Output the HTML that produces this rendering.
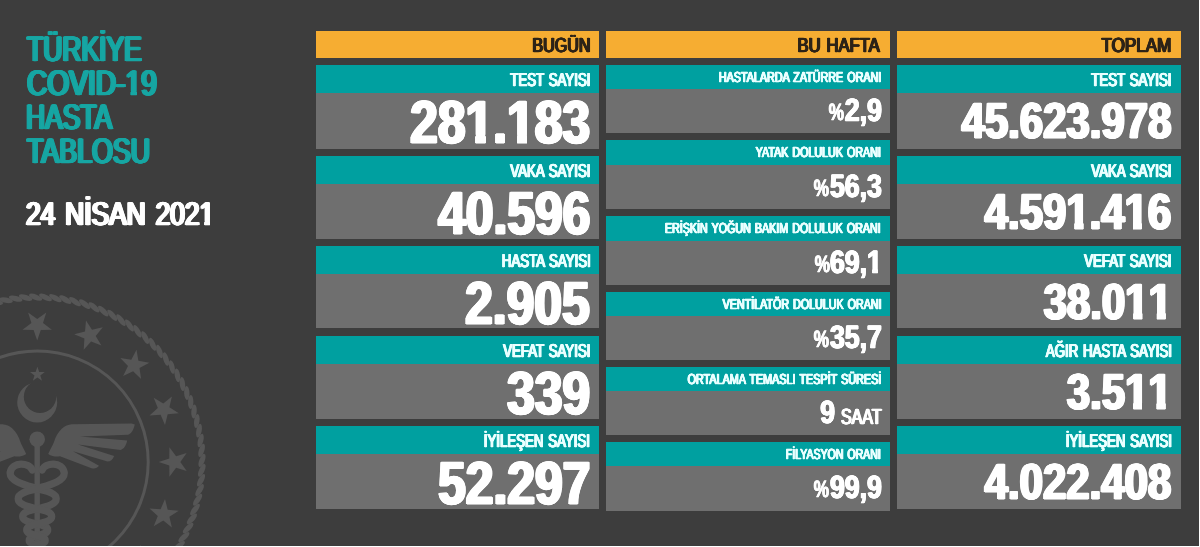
<!DOCTYPE html>
<html lang="tr"><head><meta charset="utf-8"><title>Türkiye COVID-19 Hasta Tablosu</title>
<style>
html,body{margin:0;padding:0;}
html{background:#3d3d3d;}
#stage{position:absolute;left:0;top:0;width:1200px;height:547px;filter:blur(0.4px);}
body{width:1200px;height:547px;overflow:hidden;background:#3d3d3d;position:relative;font-family:"Liberation Sans", sans-serif;font-weight:bold;}
.r{position:absolute;}
.t{position:absolute;white-space:nowrap;line-height:1;text-rendering:geometricPrecision;}
.tr{transform-origin:100% 0;}
.tl{transform-origin:0 0;}
.o{display:inline-block;}
.hdr{font-size:20.35px;font-weight:normal;word-spacing:0.08em;-webkit-text-stroke:0.60px currentColor;text-shadow:0.50px 0 0 currentColor,-0.50px 0 0 currentColor,1.00px 0 0 currentColor,-1.00px 0 0 currentColor;}
.lab{font-size:18.60px;font-weight:normal;word-spacing:0.08em;-webkit-text-stroke:0.50px currentColor;text-shadow:0.50px 0 0 currentColor,-0.50px 0 0 currentColor,1.00px 0 0 currentColor,-1.00px 0 0 currentColor;}
.n0{font-size:60.60px;-webkit-text-stroke:1.20px currentColor;text-shadow:0.44px 0 0 currentColor,-0.44px 0 0 currentColor,0.88px 0 0 currentColor,-0.88px 0 0 currentColor,1.31px 0 0 currentColor,-1.31px 0 0 currentColor,1.75px 0 0 currentColor,-1.75px 0 0 currentColor;}
.n0 .o{clip-path:polygon(-181.8px -181.8px,181.8px -181.8px,181.8px 42.82px,24.26px 42.82px,24.26px 181.8px,12.34px 181.8px,12.34px 42.82px,-181.8px 42.82px);}
.n2{font-size:50.64px;-webkit-text-stroke:1.00px currentColor;text-shadow:0.53px 0 0 currentColor,-0.53px 0 0 currentColor,1.07px 0 0 currentColor,-1.07px 0 0 currentColor,1.60px 0 0 currentColor,-1.60px 0 0 currentColor;}
.n2 .o{clip-path:polygon(-151.9px -151.9px,151.9px -151.9px,151.9px 35.93px,20.42px 35.93px,20.42px 151.9px,10.17px 151.9px,10.17px 35.93px,-151.9px 35.93px);}
.mlab{font-size:14.53px;font-weight:normal;word-spacing:0.10em;-webkit-text-stroke:0.40px currentColor;text-shadow:0.40px 0 0 currentColor,-0.40px 0 0 currentColor,0.80px 0 0 currentColor,-0.80px 0 0 currentColor;}
.mnum{font-size:32.29px;-webkit-text-stroke:0.60px currentColor;text-shadow:0.43px 0 0 currentColor,-0.43px 0 0 currentColor,0.87px 0 0 currentColor,-0.87px 0 0 currentColor;}
.mnum .o{clip-path:polygon(-96.9px -96.9px,96.9px -96.9px,96.9px 23.00px,12.89px 23.00px,12.89px 96.9px,6.62px 96.9px,6.62px 23.00px,-96.9px 23.00px);}
.mpct{font-size:23.61px;-webkit-text-stroke:0.40px currentColor;text-shadow:0.50px 0 0 currentColor,-0.50px 0 0 currentColor;}
.msaat{font-size:21.95px;font-weight:normal;-webkit-text-stroke:0.50px currentColor;text-shadow:0.53px 0 0 currentColor,-0.53px 0 0 currentColor,1.05px 0 0 currentColor,-1.05px 0 0 currentColor;}
.title{font-size:35.32px;font-weight:normal;-webkit-text-stroke:0.70px currentColor;text-shadow:0.50px 0 0 currentColor,-0.50px 0 0 currentColor,1.00px 0 0 currentColor,-1.00px 0 0 currentColor,1.50px 0 0 currentColor,-1.50px 0 0 currentColor,2.00px 0 0 currentColor,-2.00px 0 0 currentColor;}
.title .o{clip-path:polygon(-106.0px -106.0px,106.0px -106.0px,106.0px 25.61px,14.05px 25.61px,14.05px 106.0px,6.83px 106.0px,6.83px 25.61px,-106.0px 25.61px);}
.date{font-size:32.72px;font-weight:normal;word-spacing:0.10em;-webkit-text-stroke:0.70px currentColor;text-shadow:0.44px 0 0 currentColor,-0.44px 0 0 currentColor,0.88px 0 0 currentColor,-0.88px 0 0 currentColor,1.31px 0 0 currentColor,-1.31px 0 0 currentColor,1.75px 0 0 currentColor,-1.75px 0 0 currentColor;}
.date .o{clip-path:polygon(-98.2px -98.2px,98.2px -98.2px,98.2px 23.81px,12.92px 23.81px,12.92px 98.2px,6.43px 98.2px,6.43px 23.81px,-98.2px 23.81px);}
</style></head><body>
<div id="stage">
<svg width="320" height="547" viewBox="0 0 320 547" style="position:absolute;left:0;top:0" fill="#565656" stroke="none">
<defs><mask id="cm" maskUnits="userSpaceOnUse" x="0" y="370" width="80" height="60"><rect x="0" y="370" width="80" height="60" fill="#fff"/><circle cx="40.0" cy="396.8" r="16.2" fill="#000"/></mask></defs>
<g><ellipse cx="202.0" cy="460.4" rx="7.0" ry="2.7" transform="rotate(-68.6 202.0 460.4)"/><ellipse cx="201.6" cy="450.4" rx="7.0" ry="2.7" transform="rotate(-72.0 201.6 450.4)"/><ellipse cx="200.6" cy="440.5" rx="7.0" ry="2.7" transform="rotate(-75.5 200.6 440.5)"/><ellipse cx="199.0" cy="430.7" rx="7.0" ry="2.7" transform="rotate(-79.0 199.0 430.7)"/><ellipse cx="196.8" cy="421.0" rx="7.0" ry="2.7" transform="rotate(-82.4 196.8 421.0)"/><ellipse cx="194.0" cy="411.4" rx="7.0" ry="2.7" transform="rotate(-85.9 194.0 411.4)"/><ellipse cx="190.7" cy="402.0" rx="7.0" ry="2.7" transform="rotate(-89.3 190.7 402.0)"/><ellipse cx="186.8" cy="392.9" rx="7.0" ry="2.7" transform="rotate(-92.8 186.8 392.9)"/><ellipse cx="182.4" cy="384.0" rx="7.0" ry="2.7" transform="rotate(-96.3 182.4 384.0)"/><ellipse cx="177.4" cy="375.3" rx="7.0" ry="2.7" transform="rotate(-99.7 177.4 375.3)"/><ellipse cx="171.9" cy="367.0" rx="7.0" ry="2.7" transform="rotate(-103.2 171.9 367.0)"/><ellipse cx="165.9" cy="359.1" rx="7.0" ry="2.7" transform="rotate(-106.6 165.9 359.1)"/><ellipse cx="159.5" cy="351.5" rx="7.0" ry="2.7" transform="rotate(-110.1 159.5 351.5)"/><ellipse cx="152.6" cy="344.3" rx="7.0" ry="2.7" transform="rotate(-113.6 152.6 344.3)"/><ellipse cx="145.2" cy="337.6" rx="7.0" ry="2.7" transform="rotate(-117.0 145.2 337.6)"/><ellipse cx="137.5" cy="331.3" rx="7.0" ry="2.7" transform="rotate(-120.5 137.5 331.3)"/><ellipse cx="129.5" cy="325.4" rx="7.0" ry="2.7" transform="rotate(-124.0 129.5 325.4)"/><ellipse cx="121.0" cy="320.1" rx="7.0" ry="2.7" transform="rotate(-127.4 121.0 320.1)"/><ellipse cx="112.3" cy="315.3" rx="7.0" ry="2.7" transform="rotate(-130.9 112.3 315.3)"/><ellipse cx="103.3" cy="311.1" rx="7.0" ry="2.7" transform="rotate(-134.3 103.3 311.1)"/><ellipse cx="94.1" cy="307.3" rx="7.0" ry="2.7" transform="rotate(-137.8 94.1 307.3)"/><ellipse cx="84.7" cy="304.2" rx="7.0" ry="2.7" transform="rotate(-141.3 84.7 304.2)"/><ellipse cx="75.0" cy="301.6" rx="7.0" ry="2.7" transform="rotate(-144.7 75.0 301.6)"/><ellipse cx="65.3" cy="299.6" rx="7.0" ry="2.7" transform="rotate(-148.2 65.3 299.6)"/><ellipse cx="55.4" cy="298.2" rx="7.0" ry="2.7" transform="rotate(-151.6 55.4 298.2)"/><ellipse cx="45.5" cy="297.4" rx="7.0" ry="2.7" transform="rotate(-155.1 45.5 297.4)"/><ellipse cx="35.6" cy="297.2" rx="7.0" ry="2.7" transform="rotate(201.4 35.6 297.2)"/><ellipse cx="25.6" cy="297.6" rx="7.0" ry="2.7" transform="rotate(198.0 25.6 297.6)"/><ellipse cx="15.7" cy="298.6" rx="7.0" ry="2.7" transform="rotate(194.5 15.7 298.6)"/><ellipse cx="5.9" cy="300.2" rx="7.0" ry="2.7" transform="rotate(191.0 5.9 300.2)"/><ellipse cx="-3.8" cy="302.4" rx="7.0" ry="2.7" transform="rotate(187.6 -3.8 302.4)"/><ellipse cx="173.8" cy="554.3" rx="7.0" ry="2.7" transform="rotate(-34.0 173.8 554.3)"/><ellipse cx="179.1" cy="545.8" rx="7.0" ry="2.7" transform="rotate(-37.4 179.1 545.8)"/><ellipse cx="183.9" cy="537.1" rx="7.0" ry="2.7" transform="rotate(-40.9 183.9 537.1)"/><ellipse cx="188.1" cy="528.1" rx="7.0" ry="2.7" transform="rotate(-44.3 188.1 528.1)"/><ellipse cx="191.9" cy="518.9" rx="7.0" ry="2.7" transform="rotate(-47.8 191.9 518.9)"/><ellipse cx="195.0" cy="509.5" rx="7.0" ry="2.7" transform="rotate(-51.3 195.0 509.5)"/><ellipse cx="197.6" cy="499.8" rx="7.0" ry="2.7" transform="rotate(-54.7 197.6 499.8)"/><ellipse cx="199.6" cy="490.1" rx="7.0" ry="2.7" transform="rotate(-58.2 199.6 490.1)"/><ellipse cx="201.0" cy="480.2" rx="7.0" ry="2.7" transform="rotate(-61.6 201.0 480.2)"/><ellipse cx="201.8" cy="470.3" rx="7.0" ry="2.7" transform="rotate(-65.1 201.8 470.3)"/></g>
<circle cx="37.2" cy="462.0" r="111" fill="none" stroke="#565656" stroke-width="3"/>
<g><polygon points="-9.3,349.7 -10.0,338.6 0.2,334.2 -10.6,331.5 -11.6,320.4 -17.6,329.8 -28.4,327.3 -21.3,335.9 -27.0,345.5 -16.7,341.4"/><polygon points="37.2,340.5 40.8,329.9 51.9,329.8 43.0,323.1 46.3,312.5 37.2,318.9 28.1,312.5 31.4,323.1 22.5,329.8 33.6,329.9"/><polygon points="83.7,349.7 91.1,341.4 101.4,345.5 95.7,335.9 102.8,327.3 92.0,329.8 86.0,320.4 85.0,331.5 74.2,334.2 84.4,338.6"/><polygon points="123.1,376.1 133.1,371.2 141.1,378.9 139.5,367.9 149.4,362.7 138.4,360.8 136.5,349.8 131.3,359.7 120.3,358.1 128.0,366.1"/><polygon points="149.5,415.5 160.6,414.8 165.0,425.0 167.7,414.2 178.8,413.2 169.4,407.2 171.9,396.4 163.3,403.5 153.7,397.8 157.8,408.1"/><polygon points="158.7,462.0 169.3,465.6 169.4,476.7 176.1,467.8 186.7,471.1 180.3,462.0 186.7,452.9 176.1,456.2 169.4,447.3 169.3,458.4"/><polygon points="149.5,508.5 157.8,515.9 153.7,526.2 163.3,520.5 171.9,527.6 169.4,516.8 178.8,510.8 167.7,509.8 165.0,499.0 160.6,509.2"/><polygon points="123.1,547.9 128.0,557.9 120.3,565.9 131.3,564.3 136.5,574.2 138.4,563.2 149.4,561.3 139.5,556.1 141.1,545.1 133.1,552.8"/><polygon points="37.4,366.7 35.6,372.0 30.0,372.1 34.5,375.5 32.8,380.8 37.4,377.6 42.0,380.8 40.3,375.5 44.8,372.1 39.2,372.0"/></g>
<path fill-rule="evenodd" d="M17.2 402.4a20.0 20.0 0 1 0 40.0 0a20.0 20.0 0 1 0 -40.0 0z" mask="url(#cm)"/>
<circle cx="37.2" cy="439.3" r="7.8"/>
<rect x="34.5" y="444" width="5.4" height="110"/>
<path d="M48.2 453.9 C50.5 449 52.5 445.5 54 442 C55.5 437 58 432 62 428.5 C65 426 68 424.6 72 424.3 L131.6 423.6 L134.8 424.4 C133.5 430 131.5 433.5 128 434.8 L80 436.6  L127.2 440.6 C126 446 124 449 120.5 450 L78 444.6  L114.2 456.0 C112.6 460 110.5 461.6 107.5 461.6 L73 451.3  L99.0 465.8 C97 468.4 94.5 469 91.5 468.2 L60 456.2 C56 457 52 456.2 48.2 453.9 Z"/>
<path d="M48.2 453.9 C50.5 449 52.5 445.5 54 442 C55.5 437 58 432 62 428.5 C65 426 68 424.6 72 424.3 L131.6 423.6 L134.8 424.4 C133.5 430 131.5 433.5 128 434.8 L80 436.6  L127.2 440.6 C126 446 124 449 120.5 450 L78 444.6  L114.2 456.0 C112.6 460 110.5 461.6 107.5 461.6 L73 451.3  L99.0 465.8 C97 468.4 94.5 469 91.5 468.2 L60 456.2 C56 457 52 456.2 48.2 453.9 Z" transform="translate(74.4 0) scale(-1 1)"/>
<path d="M32.2 470.0 C29.2 462.5 12.2 461.0 10.2 472.5 C9.2 482.0 29.2 486.0 37.2 488.6 C48.6 491.1 56.2 493.7 56.2 498.7 C56.2 503.8 48.6 506.3 37.2 508.8 C28.5 510.7 22.7 512.6 22.7 516.4 C22.7 520.2 28.5 522.1 37.2 524.0 C43.5 525.5 47.7 526.9 47.7 529.9 C47.7 532.8 43.5 534.2 37.2 535.7 C32.4 536.9 29.2 538.0 29.2 540.4 C29.2 542.7 32.4 543.8 37.2 545.0 C40.8 546.0 43.2 547.0 43.2 549.0 C43.2 551.0 40.8 552.0 37.2 553.0" fill="none" stroke="#565656" stroke-width="7.3" stroke-linecap="round"/>
<path d="M42.2 470.0 C45.2 462.5 62.2 461.0 64.2 472.5 C65.2 482.0 45.2 486.0 37.2 488.6 C25.8 491.1 18.2 493.7 18.2 498.7 C18.2 503.8 25.8 506.3 37.2 508.8 C45.9 510.7 51.7 512.6 51.7 516.4 C51.7 520.2 45.9 522.1 37.2 524.0 C30.9 525.5 26.7 526.9 26.7 529.9 C26.7 532.8 30.9 534.2 37.2 535.7 C42.0 536.9 45.2 538.0 45.2 540.4 C45.2 542.7 42.0 543.8 37.2 545.0 C33.6 546.0 31.2 547.0 31.2 549.0 C31.2 551.0 33.6 552.0 37.2 553.0" fill="none" stroke="#565656" stroke-width="7.3" stroke-linecap="round"/>
</svg>
<div class="r" style="left:315.60px;top:31.10px;width:283.40px;height:26.60px;background:#f6ad32"></div>
<div class="r" style="left:606.20px;top:31.10px;width:283.90px;height:26.60px;background:#f6ad32"></div>
<div class="r" style="left:896.85px;top:31.10px;width:283.75px;height:26.60px;background:#f6ad32"></div>
<div class="r" style="left:315.60px;top:64.60px;width:283.40px;height:28.60px;background:#00a0a0"></div>
<div class="r" style="left:315.60px;top:93.20px;width:283.40px;height:55.40px;background:#6f6f6f"></div>
<div class="r" style="left:315.60px;top:155.50px;width:283.40px;height:28.60px;background:#00a0a0"></div>
<div class="r" style="left:315.60px;top:184.10px;width:283.40px;height:54.70px;background:#6f6f6f"></div>
<div class="r" style="left:315.60px;top:245.50px;width:283.40px;height:28.60px;background:#00a0a0"></div>
<div class="r" style="left:315.60px;top:274.10px;width:283.40px;height:54.40px;background:#6f6f6f"></div>
<div class="r" style="left:315.60px;top:335.50px;width:283.40px;height:28.60px;background:#00a0a0"></div>
<div class="r" style="left:315.60px;top:364.10px;width:283.40px;height:54.70px;background:#6f6f6f"></div>
<div class="r" style="left:315.60px;top:425.70px;width:283.40px;height:28.60px;background:#00a0a0"></div>
<div class="r" style="left:315.60px;top:454.30px;width:283.40px;height:55.00px;background:#6f6f6f"></div>
<div class="r" style="left:896.85px;top:64.60px;width:283.75px;height:28.60px;background:#00a0a0"></div>
<div class="r" style="left:896.85px;top:93.20px;width:283.75px;height:55.40px;background:#6f6f6f"></div>
<div class="r" style="left:896.85px;top:155.50px;width:283.75px;height:28.60px;background:#00a0a0"></div>
<div class="r" style="left:896.85px;top:184.10px;width:283.75px;height:54.70px;background:#6f6f6f"></div>
<div class="r" style="left:896.85px;top:245.50px;width:283.75px;height:28.60px;background:#00a0a0"></div>
<div class="r" style="left:896.85px;top:274.10px;width:283.75px;height:54.40px;background:#6f6f6f"></div>
<div class="r" style="left:896.85px;top:335.50px;width:283.75px;height:28.60px;background:#00a0a0"></div>
<div class="r" style="left:896.85px;top:364.10px;width:283.75px;height:54.70px;background:#6f6f6f"></div>
<div class="r" style="left:896.85px;top:425.70px;width:283.75px;height:28.60px;background:#00a0a0"></div>
<div class="r" style="left:896.85px;top:454.30px;width:283.75px;height:55.00px;background:#6f6f6f"></div>
<div class="r" style="left:606.20px;top:64.60px;width:283.90px;height:24.80px;background:#00a0a0"></div>
<div class="r" style="left:606.20px;top:89.40px;width:283.90px;height:43.65px;background:#6f6f6f"></div>
<div class="r" style="left:606.20px;top:140.00px;width:283.90px;height:24.80px;background:#00a0a0"></div>
<div class="r" style="left:606.20px;top:164.80px;width:283.90px;height:44.40px;background:#6f6f6f"></div>
<div class="r" style="left:606.20px;top:216.10px;width:283.90px;height:24.80px;background:#00a0a0"></div>
<div class="r" style="left:606.20px;top:240.90px;width:283.90px;height:44.00px;background:#6f6f6f"></div>
<div class="r" style="left:606.20px;top:291.60px;width:283.90px;height:24.80px;background:#00a0a0"></div>
<div class="r" style="left:606.20px;top:316.40px;width:283.90px;height:43.40px;background:#6f6f6f"></div>
<div class="r" style="left:606.20px;top:366.50px;width:283.90px;height:24.80px;background:#00a0a0"></div>
<div class="r" style="left:606.20px;top:391.30px;width:283.90px;height:43.45px;background:#6f6f6f"></div>
<div class="r" style="left:606.20px;top:441.50px;width:283.90px;height:24.80px;background:#00a0a0"></div>
<div class="r" style="left:606.20px;top:466.30px;width:283.90px;height:44.70px;background:#6f6f6f"></div>
<div class="t tl title" style="left:26.90px;top:32px;color:#17a6a3;transform:scaleX(0.7500)">TÜRKİYE</div>
<div class="t tl title" style="left:26.76px;top:66px;color:#17a6a3;transform:scaleX(0.7965)">COVID-<span class="o">1</span>9</div>
<div class="t tl title" style="left:26.43px;top:100px;color:#17a6a3;transform:scaleX(0.7477)">HASTA</div>
<div class="t tl title" style="left:26.92px;top:134px;color:#17a6a3;transform:scaleX(0.7587)">TABLOSU</div>
<div class="t tl date" style="left:25.98px;top:198px;color:#fff;transform:scaleX(0.8043)">24 NİSAN 202<span class="o">1</span></div>
<div class="t tr hdr" style="right:609.68px;top:36px;color:#2e2418;transform:scaleX(0.7906)">BUGÜN</div>
<div class="t tr hdr" style="right:320.08px;top:36px;color:#2e2418;transform:scaleX(0.8164)">BU HAFTA</div>
<div class="t tr hdr" style="right:28.24px;top:36px;color:#2e2418;transform:scaleX(0.8376)">TOPLAM</div>
<div class="t tr lab" style="right:609.69px;top:71px;color:#eaffff;transform:scaleX(0.7126)">TEST SAYISI</div>
<div class="t tr n0" style="right:609.84px;top:92px;color:#fff;transform:scaleX(0.8213)">28<span class="o">1</span>.<span class="o">1</span>83</div>
<div class="t tr lab" style="right:609.69px;top:162px;color:#eaffff;transform:scaleX(0.7126)">VAKA SAYISI</div>
<div class="t tr n0" style="right:609.84px;top:183px;color:#fff;transform:scaleX(0.8213)">40.596</div>
<div class="t tr lab" style="right:609.69px;top:252px;color:#eaffff;transform:scaleX(0.7126)">HASTA SAYISI</div>
<div class="t tr n0" style="right:610.25px;top:273px;color:#fff;transform:scaleX(0.8213)">2.905</div>
<div class="t tr lab" style="right:609.69px;top:342px;color:#eaffff;transform:scaleX(0.7126)">VEFAT SAYISI</div>
<div class="t tr n0" style="right:609.79px;top:363px;color:#fff;transform:scaleX(0.8213)">339</div>
<div class="t tr lab" style="right:609.69px;top:432px;color:#eaffff;transform:scaleX(0.7126)">İYİLEŞEN SAYISI</div>
<div class="t tr n0" style="right:609.45px;top:453px;color:#fff;transform:scaleX(0.8213)">52.297</div>
<div class="t tr lab" style="right:28.29px;top:71px;color:#eaffff;transform:scaleX(0.7126)">TEST SAYISI</div>
<div class="t tr n2" style="right:28.83px;top:96px;color:#fff;transform:scaleX(0.8283)">45.623.978</div>
<div class="t tr lab" style="right:28.29px;top:162px;color:#eaffff;transform:scaleX(0.7126)">VAKA SAYISI</div>
<div class="t tr n2" style="right:28.61px;top:187px;color:#fff;transform:scaleX(0.8283)">4.59<span class="o">1</span>.4<span class="o">1</span>6</div>
<div class="t tr lab" style="right:28.29px;top:252px;color:#eaffff;transform:scaleX(0.7126)">VEFAT SAYISI</div>
<div class="t tr n2" style="right:28.10px;top:277px;color:#fff;transform:scaleX(0.8283)">38.0<span class="o">1</span><span class="o">1</span></div>
<div class="t tr lab" style="right:28.29px;top:342px;color:#eaffff;transform:scaleX(0.7126)">AĞIR HASTA SAYISI</div>
<div class="t tr n2" style="right:28.10px;top:367px;color:#fff;transform:scaleX(0.8283)">3.5<span class="o">1</span><span class="o">1</span></div>
<div class="t tr lab" style="right:28.29px;top:432px;color:#eaffff;transform:scaleX(0.7126)">İYİLEŞEN SAYISI</div>
<div class="t tr n2" style="right:28.83px;top:457px;color:#fff;transform:scaleX(0.8283)">4.022.408</div>
<div class="t tr mlab" style="right:318.90px;top:71px;color:#eaffff;transform:scaleX(0.7409)">HASTALARDA ZATÜRRE ORANI</div>
<div class="t tr mpct" style="right:355.71px;top:102px;color:#fff;transform:scaleX(0.7311)">%</div>
<div class="t tr mnum" style="right:318.43px;top:94px;color:#fff;transform:scaleX(0.8259)">2,9</div>
<div class="t tr mlab" style="right:318.90px;top:146px;color:#eaffff;transform:scaleX(0.7372)">YATAK DOLULUK ORANI</div>
<div class="t tr mpct" style="right:370.67px;top:178px;color:#fff;transform:scaleX(0.7311)">%</div>
<div class="t tr mnum" style="right:318.45px;top:170px;color:#fff;transform:scaleX(0.8259)">56,3</div>
<div class="t tr mlab" style="right:318.90px;top:222px;color:#eaffff;transform:scaleX(0.7372)">ERİŞKİN YOĞUN BAKIM DOLULUK ORANI</div>
<div class="t tr mpct" style="right:370.19px;top:254px;color:#fff;transform:scaleX(0.7311)">%</div>
<div class="t tr mnum" style="right:318.13px;top:246px;color:#fff;transform:scaleX(0.8259)">69,<span class="o">1</span></div>
<div class="t tr mlab" style="right:318.90px;top:298px;color:#eaffff;transform:scaleX(0.7372)">VENTİLATÖR DOLULUK ORANI</div>
<div class="t tr mpct" style="right:370.67px;top:329px;color:#fff;transform:scaleX(0.7311)">%</div>
<div class="t tr mnum" style="right:318.25px;top:321px;color:#fff;transform:scaleX(0.8259)">35,7</div>
<div class="t tr mlab" style="right:318.90px;top:373px;color:#eaffff;transform:scaleX(0.7444)">ORTALAMA TEMASLI TESPİT SÜRESİ</div>
<div class="t tr mnum" style="right:365.23px;top:396px;color:#fff;transform:scaleX(0.8259)">9</div>
<div class="t tr msaat" style="right:318.40px;top:406px;color:#fff;transform:scaleX(0.7322)">SAAT</div>
<div class="t tr mlab" style="right:318.91px;top:448px;color:#eaffff;transform:scaleX(0.7262)">FİLYASYON ORANI</div>
<div class="t tr mpct" style="right:370.54px;top:479px;color:#fff;transform:scaleX(0.7311)">%</div>
<div class="t tr mnum" style="right:318.43px;top:471px;color:#fff;transform:scaleX(0.8259)">99,9</div>
</div>
<div class="r" style="left:1199px;top:0;width:1px;height:547px;background:#fff"></div>
<div class="r" style="left:0;top:546px;width:1200px;height:1px;background:#fff"></div>
</body></html>
